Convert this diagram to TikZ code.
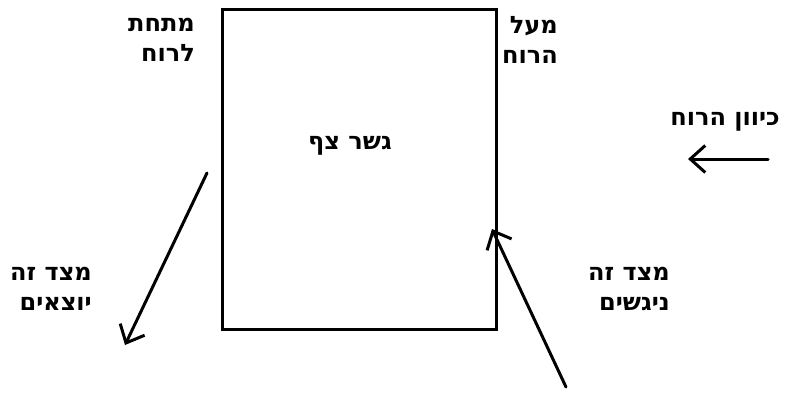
\documentclass[tikz,border=0pt]{standalone}
\usepackage{fontspec}
\usetikzlibrary{arrows.meta}
\TeXXeTstate=1
\newfontfamily\hebfont[Script=Hebrew]{DejaVu Sans}
\tikzset{
  heb/.style={font=\hebfont\bfseries\fontsize{24}{30}\selectfont, inner sep=0pt, align=right, anchor=east},
  windarrow/.style={line width=3pt, line cap=round, -{Straight Barb[length=15pt,width=27pt,line width=3pt]}},
}
\begin{document}
\begin{tikzpicture}[x=1pt,y=-1pt]
\useasboundingbox (0,0) rectangle (787,392);
\node[draw, line width=2.5pt, minimum width=274pt, minimum height=320pt, inner sep=0pt] (bridge) at (359.5,169.5) {};
\node[heb] (bridgelbl) at (392,146) {\beginR גשר צף\endR};
\node[heb] (lee) at (195,40) {\beginR מתחת\endR\\\beginR לרוח\endR};
\node[heb] (wind) at (558,40) {\beginR מעל\endR\\\beginR הרוח\endR};
\node[heb] (dir) at (780,122) {\beginR כיוון הרוח\endR};
\node[heb] (out) at (92,289) {\beginR מצד זה\endR\\\beginR יוצאים\endR};
\node[heb] (in) at (670,289) {\beginR מצד זה\endR\\\beginR ניגשים\endR};
\coordinate (d1) at (768,159);
\coordinate (d2) at (688,159);
\coordinate (o1) at (207,173);
\coordinate (o2) at (125,345);
\coordinate (i1) at (566,387);
\coordinate (i2) at (492,229);
\draw[windarrow] (d1) -- (d2);
\draw[windarrow] (o1) -- (o2);
\draw[windarrow] (i1) -- (i2);
\end{tikzpicture}
\end{document}
